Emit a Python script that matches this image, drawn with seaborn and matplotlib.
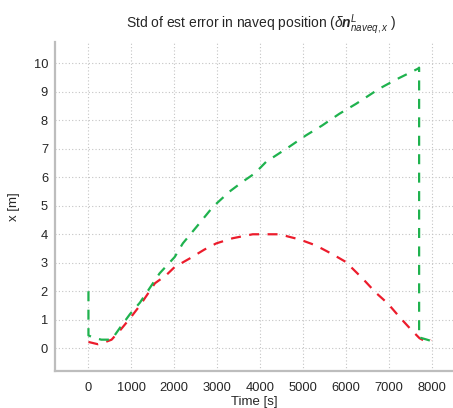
import numpy as np
import pandas as pd
import matplotlib
matplotlib.use("Agg")
import matplotlib.pyplot as plt
import seaborn as sns

# Data
green_t = [0, 0, 100, 300, 540, 750, 970, 1200, 1370, 1660, 2010, 2200, 2520, 2900,
           3290, 3600, 3880, 4140, 4680, 5070, 5450, 5850, 6240, 6780, 7170, 7680,
           7710, 7710, 7850, 7960]
green_v = [2.0, 0.45, 0.38, 0.3, 0.3, 0.75, 1.2, 1.6, 1.98, 2.63, 3.2, 3.68, 4.26, 4.96,
           5.5, 5.85, 6.14, 6.54, 7.07, 7.47, 7.82, 8.23, 8.58, 9.11, 9.43, 9.81,
           9.85, 0.38, 0.32, 0.27]

red_t = [0, 220, 400, 540, 750, 970, 1200, 1550, 1810, 2010, 2360, 2700, 2980, 3360,
         3830, 4450, 4920, 5300, 5690, 6000, 6390, 6700, 6980, 7250, 7530, 7720, 7870, 7990]
red_v = [0.22, 0.14, 0.22, 0.3, 0.65, 1.05, 1.5, 2.28, 2.56, 2.85, 3.15, 3.46, 3.68, 3.86,
         4.0, 4.0, 3.82, 3.61, 3.3, 3.03, 2.45, 1.95, 1.57, 1.1, 0.64, 0.35, 0.23, 0.29]

x_ticks = [0, 1000, 2000, 3000, 4000, 5000, 6000, 7000, 8000]
y_ticks = [0, 1, 2, 3, 4, 5, 6, 7, 8, 9, 10]

title = r"Std of est error in naveq position ($\delta \mathbfit{n}^{L}_{naveq,x}$ )"

sns.set_style("white")
plt.rcParams["font.family"] = ["Liberation Sans", "DejaVu Sans"]
plt.rcParams["mathtext.fontset"] = "custom"
plt.rcParams["mathtext.rm"] = "Liberation Sans"
plt.rcParams["mathtext.it"] = "Liberation Sans:italic"
plt.rcParams["mathtext.bf"] = "Liberation Sans:bold"
plt.rcParams["mathtext.bfit"] = "Liberation Sans:bold:italic"

W, H = 453, 408
fig = plt.figure(figsize=(W / 100, H / 100), dpi=100)
ax = fig.add_axes([55 / W, (H - 371) / H, 398 / W, 329 / H])

gdf = pd.DataFrame({"t": green_t, "v": green_v})
rdf = pd.DataFrame({"t": red_t, "v": red_v})

sns.lineplot(data=rdf, x="t", y="v", ax=ax, sort=False, estimator=None,
             color="#ec1c2c", linewidth=1.6, dashes=False)
sns.lineplot(data=gdf, x="t", y="v", ax=ax, sort=False, estimator=None,
             color="#1fb24e", linewidth=1.6, dashes=False)
for ln in ax.get_lines():
    ln.set_dashes((4.5, 3.8))

ax.set_xlim(-780, 8500)
ax.set_ylim(-0.8, 10.75)
ax.set_xticks(x_ticks)
ax.set_yticks(y_ticks)
ax.set_xticklabels([str(v) for v in x_ticks])
ax.set_yticklabels([str(v) for v in y_ticks])

ax.grid(True, linestyle=(0, (1, 2)), color="#c4c4c4", linewidth=0.8)
for s in ["top", "right"]:
    ax.spines[s].set_visible(False)
for s in ["left", "bottom"]:
    ax.spines[s].set_color("#bdbdbd")
    ax.spines[s].set_linewidth(1.6)
ax.tick_params(direction="in", length=3.5, width=1, color="#222222",
               labelsize=9.3, labelcolor="#262626", pad=5)
ax.tick_params(axis="x", pad=8)

ax.set_xlabel("Time [s]", fontsize=9.5, color="#262626", labelpad=1)
ax.set_ylabel("x [m]", fontsize=9.5, color="#262626", labelpad=10)
ax.set_title(title, fontsize=10, color="#262626", x=0.518, pad=10)

fig.savefig("out.png", dpi=100)
